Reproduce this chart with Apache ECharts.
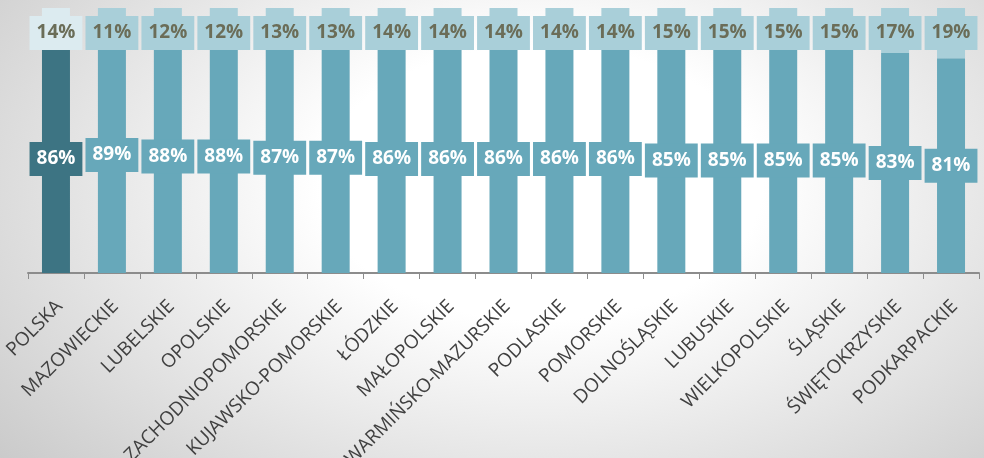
<!DOCTYPE html>
<html>
<head>
<meta charset="utf-8">
<script src="https://cdn.jsdelivr.net/npm/echarts@6/dist/echarts.min.js"></script>
<style>
  html, body { margin: 0; padding: 0; }
  body {
    width: 984px; height: 458px; overflow: hidden;
    background: radial-gradient(ellipse 75% 100% at 55% 40%, #ffffff 30%, #c6c6c6 100%);
  }
  #chart { width: 984px; height: 458px; }
</style>
</head>
<body>
<div id="chart"></div>
<script>
const regions = ['POLSKA', 'MAZOWIECKIE', 'LUBELSKIE', 'OPOLSKIE', 'ZACHODNIOPOMORSKIE',
  'KUJAWSKO-POMORSKIE', 'ŁÓDZKIE', 'MAŁOPOLSKIE', 'WARMIŃSKO-MAZURSKIE', 'PODLASKIE',
  'POMORSKIE', 'DOLNOŚLĄSKIE', 'LUBUSKIE', 'WIELKOPOLSKIE', 'ŚLĄSKIE', 'ŚWIĘTOKRZYSKIE', 'PODKARPACKIE']
const yesValues = [86, 89, 88, 88, 87, 87, 86, 86, 86, 86, 86, 85, 85, 85, 85, 83, 81]
const noValues = [14, 11, 12, 12, 13, 13, 14, 14, 14, 14, 14, 15, 15, 15, 15, 17, 19]

const darkMain = '#3d7483'
const mainColor = '#67a8ba'
const lightTopColor = '#dcebf0'
const topColor = '#a9cfd9'

const chart = echarts.init(document.getElementById('chart'))

const lowerData = yesValues.map((v, i) => ({
  value: v,
  itemStyle: { color: i === 0 ? darkMain : mainColor },
  label: { backgroundColor: i === 0 ? darkMain : mainColor }
}))
const upperData = noValues.map((v, i) => ({
  value: v,
  itemStyle: { color: i === 0 ? lightTopColor : topColor },
  label: { backgroundColor: i === 0 ? lightTopColor : topColor }
}))

const labelBase = {
  show: true,
  formatter: '{c}%',
  fontFamily: 'Open Sans',
  fontWeight: 'bold',
  fontSize: 19,
  lineHeight: 20,
  padding: [7, 7, 7, 7]
}

chart.setOption({
  animation: false,
  grid: { left: 28, right: 5, top: 8, bottom: 185, outerBoundsMode: 'none', containLabel: false },
  xAxis: {
    type: 'category',
    data: regions,
    axisLine: { lineStyle: { color: '#8c8c8c', width: 2 } },
    axisTick: { show: true, length: 6, lineStyle: { color: '#8c8c8c' } },
    axisLabel: {
      rotate: 45,
      interval: 0,
      color: '#404040',
      fontFamily: 'Open Sans',
      fontSize: 19,
      margin: 34,
      padding: [0, -5, 0, 0]
    }
  },
  yAxis: {
    type: 'value',
    min: 0,
    max: 100,
    show: false,
    splitLine: { show: false }
  },
  series: [
    {
      type: 'bar',
      stack: 'total',
      barWidth: 28,
      data: lowerData,
      label: Object.assign({}, labelBase, { position: 'inside', color: '#ffffff' })
    },
    {
      type: 'bar',
      stack: 'total',
      barWidth: 28,
      data: upperData,
      label: Object.assign({}, labelBase, { position: 'insideTop', distance: 8, color: '#6b6d58' })
    }
  ]
})
</script>
</body>
</html>
